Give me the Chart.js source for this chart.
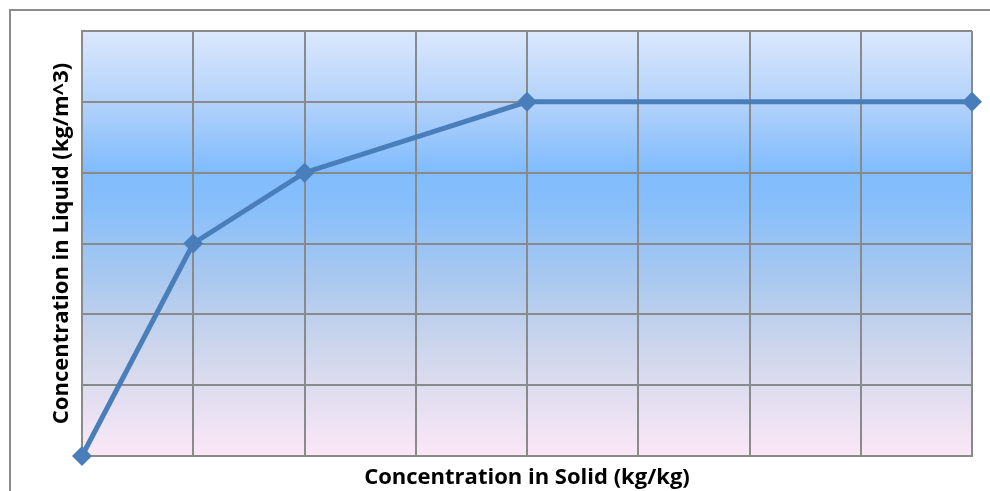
<!DOCTYPE html>
<html>
<head>
<meta charset="utf-8">
<script src="https://cdn.jsdelivr.net/npm/chart.js@4/dist/chart.umd.min.js"></script>
<style>
  html, body { margin: 0; padding: 0; background: #ffffff; }
  #wrap { width: 990px; height: 491px; position: relative; }
</style>
</head>
<body>
<div id="wrap"><canvas id="c" width="990" height="491"></canvas></div>
<script>
// Equilibrium data: solid-phase vs liquid-phase concentration
const solidConc = [0, 1, 2, 4, 8];
const liquidConc = [0, 3, 4, 5, 5];
const xTitle = 'Concentration in Solid (kg/kg)';
const yTitle = 'Concentration in Liquid (kg/m^3)';

const points = solidConc.map((x, i) => ({ x: x, y: liquidConc[i] }));

// Vertical gradient fill behind the plot area
const plotBackground = {
  id: 'plotBackground',
  beforeDraw(chart) {
    const { ctx, chartArea: a } = chart;
    const g = ctx.createLinearGradient(0, a.top, 0, a.bottom);
    g.addColorStop(0.00, '#dbe8fd');
    g.addColorStop(0.17, '#b2d2fb');
    g.addColorStop(0.33, '#80bcfd');
    g.addColorStop(0.42, '#88bffa');
    g.addColorStop(0.58, '#a9c8ef');
    g.addColorStop(0.75, '#ced6ec');
    g.addColorStop(1.00, '#fbe8f6');
    ctx.save();
    ctx.fillStyle = g;
    ctx.fillRect(a.left, a.top, a.right - a.left, a.bottom - a.top);
    ctx.restore();
  },
  afterDraw(chart) {
    // outer frame of the chart object
    const { ctx } = chart;
    ctx.save();
    ctx.strokeStyle = '#8c8c8c';
    ctx.lineWidth = 2;
    ctx.strokeRect(10, 10, 1200, 1200);
    ctx.restore();
  }
};

const gridColor = '#8a8a8a';
const titleFont = { family: "'Open Sans'", size: 22, weight: 'bold' };

new Chart(document.getElementById('c'), {
  type: 'scatter',
  data: {
    datasets: [{
      data: points,
      showLine: true,
      borderColor: '#4a7ebb',
      backgroundColor: '#4a7ebb',
      borderWidth: 5,
      pointStyle: 'rectRot',
      pointRadius: 10,
      pointHoverRadius: 10,
      pointBorderWidth: 0,
      clip: false
    }]
  },
  options: {
    responsive: false,
    animation: false,
    devicePixelRatio: 1,
    layout: { padding: { top: 31, right: 18, left: 0, bottom: 0 } },
    plugins: { legend: { display: false }, tooltip: { enabled: false } },
    scales: {
      x: {
        type: 'linear',
        min: 0, max: 8,
        ticks: { display: false, stepSize: 1 },
        grid: { color: gridColor, lineWidth: 2, drawTicks: false },
        border: { display: true, color: gridColor, width: 2 },
        title: { display: true, text: xTitle, color: '#000000', font: titleFont, padding: { top: 0, bottom: 0 } },
        afterFit(s) { s.height = 35; }
      },
      y: {
        type: 'linear',
        min: 0, max: 6,
        ticks: { display: false, stepSize: 1 },
        grid: { color: gridColor, lineWidth: 2, drawTicks: false },
        border: { display: true, color: gridColor, width: 2 },
        title: { display: true, text: yTitle, color: '#000000', font: titleFont, padding: { top: 49, bottom: 0 } },
        afterFit(s) { s.width = 82; }
      }
    }
  },
  plugins: [plotBackground]
});
</script>
</body>
</html>
